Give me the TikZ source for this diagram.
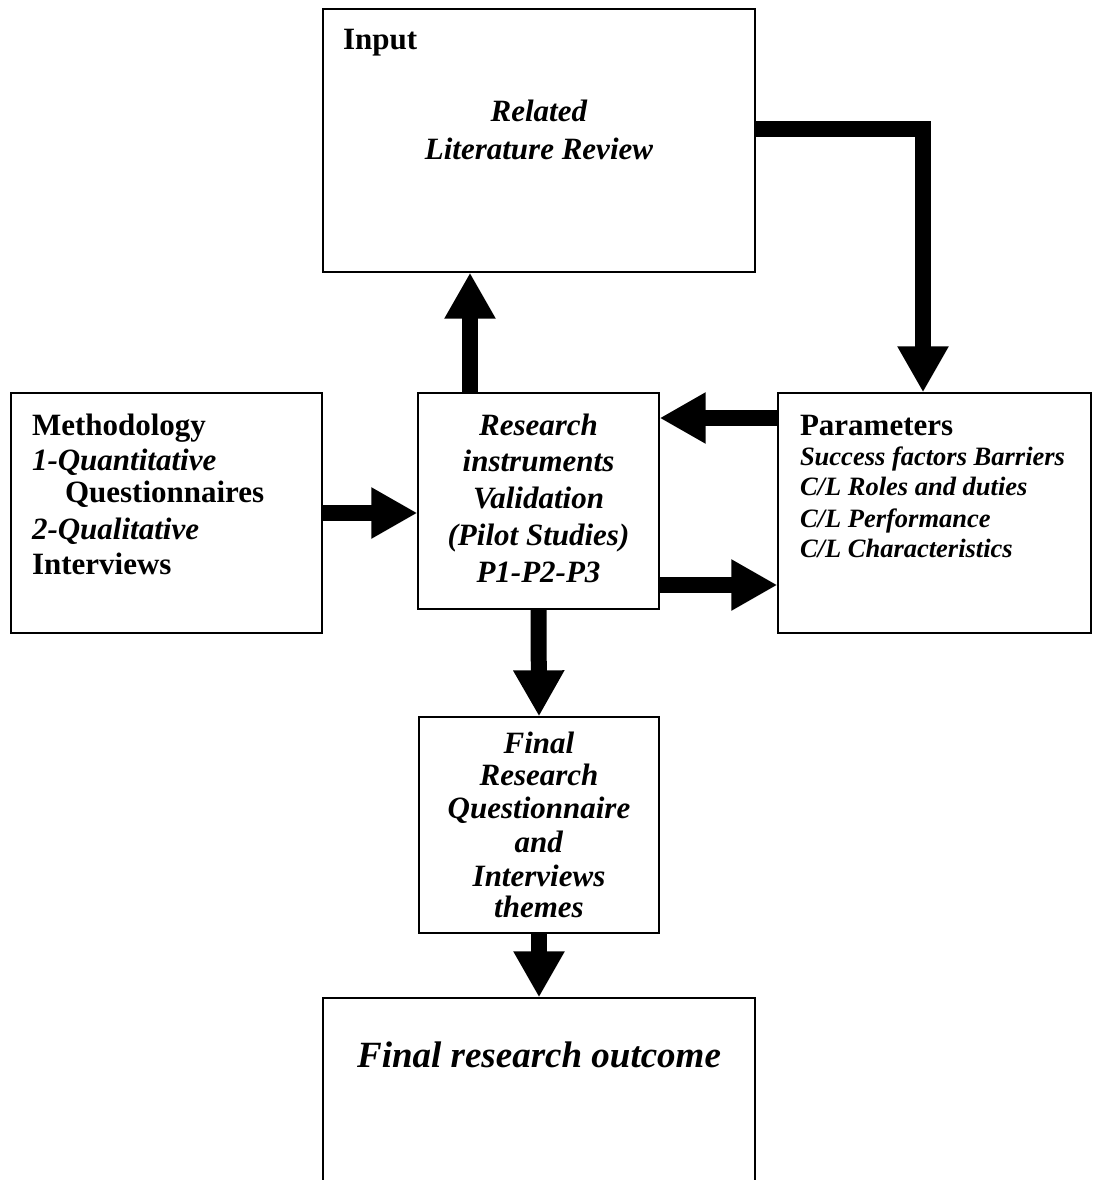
\documentclass[tikz,border=0pt]{standalone}
\usepackage{fontspec}
\setmainfont{Liberation Serif}
\usetikzlibrary{arrows.meta}
\tikzset{
  box/.style={draw=black, line width=1.3pt, fill=none, inner sep=0pt},
  bigarrow/.style={line width=16pt, line join=miter, -{Triangle[length=46pt,width=48pt]}},
  txt/.style={inner sep=0pt, outer sep=0pt},
  bigfont/.style={font=\fontsize{31}{35}\selectfont},
  smallfont/.style={font=\fontsize{26.5}{30}\selectfont},
  hugefont/.style={font=\fontsize{37}{42}\selectfont}
}
\begin{document}
\begin{tikzpicture}[x=1pt,y=-1pt]
\useasboundingbox (0,0) rectangle (1094,1180);
\clip (0,0) rectangle (1094,1180);
\fill[white] (0,0) rectangle (1094,1180);
% boxes
\node[box, minimum width=432pt, minimum height=263pt] (input) at (539,140.5) {};
\node[box, minimum width=311pt, minimum height=240pt] (method) at (166.5,513) {};
\node[box, minimum width=241pt, minimum height=216pt] (research) at (538.5,501) {};
\node[box, minimum width=313pt, minimum height=240pt] (params) at (934.5,513) {};
\node[box, minimum width=240pt, minimum height=216pt] (finalq) at (539,825) {};
\node[box, minimum width=432pt, minimum height=192pt] (outcome) at (539,1094) {};
% texts: input
\node[txt, bigfont, anchor=base west] (tInput) at (343,50) {\textbf{Input}};
\node[txt, bigfont, anchor=base] (tRel) at (539,122) {\textbf{\textit{Related}}};
\node[txt, bigfont, anchor=base] (tLit) at (539,160) {\textbf{\textit{Literature Review}}};
% methodology
\node[txt, bigfont, anchor=base west] (m1) at (32,435) {\textbf{Methodology}};
\node[txt, bigfont, anchor=base west] (m2) at (32,470) {\textbf{\textit{1-Quantitative}}};
\node[txt, bigfont, anchor=base west] (m3) at (65,502) {\textbf{Questionnaires}};
\node[txt, bigfont, anchor=base west] (m4) at (32,539) {\textbf{\textit{2-Qualitative}}};
\node[txt, bigfont, anchor=base west] (m5) at (32,574) {\textbf{Interviews}};
% research
\node[txt, bigfont, anchor=base] (r1) at (538.5,435) {\textbf{\textit{Research}}};
\node[txt, bigfont, anchor=base] (r2) at (538.5,471) {\textbf{\textit{instruments}}};
\node[txt, bigfont, anchor=base] (r3) at (538.5,508) {\textbf{\textit{Validation}}};
\node[txt, bigfont, anchor=base] (r4) at (538.5,545) {\textbf{\textit{(Pilot Studies)}}};
\node[txt, bigfont, anchor=base] (r5) at (538.5,582) {\textbf{\textit{P1-P2-P3}}};
% parameters
\node[txt, bigfont, anchor=base west] (p1) at (800,435) {\textbf{Parameters}};
\node[txt, smallfont, anchor=base west] (p2) at (800,465) {\textbf{\textit{Success factors Barriers}}};
\node[txt, smallfont, anchor=base west] (p3) at (800,495) {\textbf{\textit{C/L Roles and duties}}};
\node[txt, smallfont, anchor=base west] (p4) at (800,527) {\textbf{\textit{C/L Performance}}};
\node[txt, smallfont, anchor=base west] (p5) at (800,557) {\textbf{\textit{C/L Characteristics}}};
% final questionnaire
\node[txt, bigfont, anchor=base] (f1) at (539,753) {\textbf{\textit{Final}}};
\node[txt, bigfont, anchor=base] (f2) at (539,785) {\textbf{\textit{Research}}};
\node[txt, bigfont, anchor=base] (f3) at (539,818) {\textbf{\textit{Questionnaire}}};
\node[txt, bigfont, anchor=base] (f4) at (539,852) {\textbf{\textit{and}}};
\node[txt, bigfont, anchor=base] (f5) at (539,886) {\textbf{\textit{Interviews}}};
\node[txt, bigfont, anchor=base] (f6) at (539,917) {\textbf{\textit{themes}}};
% outcome
\node[txt, hugefont, anchor=base] (o1) at (539,1067) {\textbf{\textit{Final research outcome}}};
% helper coordinates
\coordinate (upX) at (470,0);
\coordinate (elbowX) at (923,0);
\coordinate (yTop) at (0,129);
\coordinate (yBack) at (0,418);
\coordinate (yFwd) at (0,585);
% connectors
\draw[bigarrow] (research.north -| upX) -- (input.south -| upX);
\draw[bigarrow] (method.east) -- (research.west |- method.east);
\draw[bigarrow] (params.west |- yBack) -- (research.east |- yBack);
\draw[bigarrow] (research.east |- yFwd) -- (params.west |- yFwd);
\draw[bigarrow] (input.east |- yTop) -- (elbowX |- yTop) -- (params.north -| elbowX);
\draw[bigarrow] (research.south) -- (finalq.north);
\draw[bigarrow] (finalq.south) -- (outcome.north);
\end{tikzpicture}
\end{document}
